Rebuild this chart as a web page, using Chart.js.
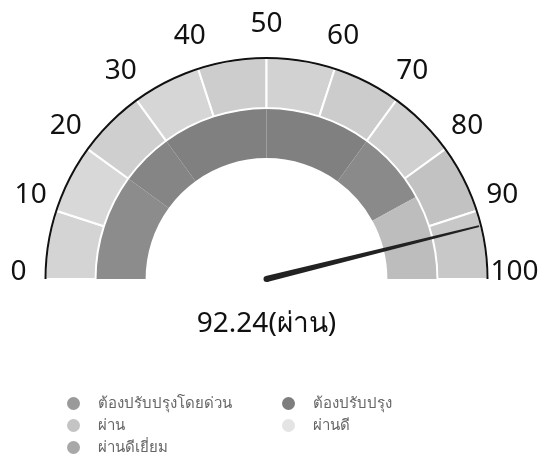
<!DOCTYPE html>
<html lang="th">
<head>
    <meta charset="UTF-8">
    <title>Gauge</title>
    <script src="https://cdn.jsdelivr.net/npm/chart.js"></script>
    <style>
        body { margin: 0; background: #fff; font-family: "Noto Sans", sans-serif; }
        #wrap { position: relative; width: 545px; height: 360px; }
        #legend { position: absolute; left: 0; top: 0; width: 545px; height: 463px; pointer-events: none; }
        .item { position: absolute; display: flex; align-items: center; font-size: 15px; color: #666; white-space: nowrap; }
        .dot { width: 13px; height: 13px; border-radius: 50%; margin-right: 18px; }
    </style>
</head>
<body>
    <div id="wrap"><canvas id="gauge"></canvas></div>
    <div id="legend"></div>
    <script>
        // scale labels around the dial
        const tickValues = [0, 10, 20, 30, 40, 50, 60, 70, 80, 90, 100];
        const tickLabels = ['0', '10', '20', '30', '40', '50', '60', '70', '80', '90', '100'];

        // outer ring: ten bands of 10
        const outerBands = [10, 10, 10, 10, 10, 10, 10, 10, 10, 10];
        const outerColors = ['#d4d4d4', '#d8d8d8', '#cfcfcf', '#d6d6d6', '#cdcdcd',
                             '#d2d2d2', '#cccccc', '#d0d0d0', '#c2c2c2', '#c8c8c8'];

        // inner ring pieces
        const innerBands = [20, 10, 20, 20, 14, 16];
        const innerColors = ['#8c8c8c', '#858585', '#808080', '#808080', '#8a8a8a', '#bdbdbd'];

        const needleValue = 92.24;
        const valueText = '92.24(ผ่าน)';

        const categories = ['ต้องปรับปรุงโดยด่วน', 'ต้องปรับปรุง', 'ผ่าน', 'ผ่านดี', 'ผ่านดีเยี่ยม'];
        const categoryColors = ['#9a9a9a', '#7e7e7e', '#c4c4c4', '#e4e4e4', '#a8a8a8'];

        const gaugeMax = 100;

        function angleFor(arc, v) {
            return arc.startAngle + (Math.PI * v / gaugeMax);
        }

        const dialPlugin = {
            id: 'dial',
            afterDatasetsDraw(chart) {
                const ctx = chart.ctx;
                const arc = chart.getDatasetMeta(0).data[0];
                const cx = arc.x, cy = arc.y, r = arc.outerRadius;

                // outline along the outer edge
                ctx.save();
                ctx.beginPath();
                ctx.arc(cx, cy, r, Math.PI, 2 * Math.PI);
                ctx.lineWidth = 2;
                ctx.strokeStyle = '#111';
                ctx.stroke();

                // tick labels
                ctx.fillStyle = '#111';
                ctx.font = '28px "Noto Sans", sans-serif';
                ctx.textAlign = 'center';
                ctx.textBaseline = 'middle';
                tickValues.forEach((v, i) => {
                    const a = angleFor(arc, v);
                    const lr = r + 27;
                    ctx.fillText(tickLabels[i], cx + Math.cos(a) * lr, cy + Math.sin(a) * lr - 7);
                });

                // needle
                const a = angleFor(arc, needleValue);
                const len = r - 2;
                const nx = Math.cos(a), ny = Math.sin(a);
                const px = -ny, py = nx;
                ctx.beginPath();
                ctx.moveTo(cx + px * 3, cy + py * 3);
                ctx.lineTo(cx + nx * len + px * 1, cy + ny * len + py * 1);
                ctx.lineTo(cx + nx * len - px * 1, cy + ny * len - py * 1);
                ctx.lineTo(cx - px * 3, cy - py * 3);
                ctx.closePath();
                ctx.fillStyle = '#222';
                ctx.fill();
                ctx.beginPath();
                ctx.arc(cx, cy, 3, 0, 2 * Math.PI);
                ctx.fill();

                // value text
                ctx.fillStyle = '#111';
                ctx.font = '28px "Noto Sans", sans-serif';
                ctx.fillText(valueText, cx, cy + 45);
                ctx.restore();
            }
        };

        const ctx = document.getElementById('gauge').getContext('2d');
        const gauge = new Chart(ctx, {
            type: 'doughnut',
            data: {
                labels: outerBands.map((b, i) => String(i)),
                datasets: [{
                    data: outerBands,
                    backgroundColor: outerColors,
                    borderColor: '#fff',
                    borderWidth: 2
                }, {
                    data: innerBands,
                    backgroundColor: innerColors,
                    borderWidth: 0
                }]
            },
            options: {
                responsive: true,
                maintainAspectRatio: false,
                animation: false,
                rotation: -90,
                circumference: 180,
                cutout: '54.7%',
                layout: { padding: { left: 43, right: 55, top: 57, bottom: 80 } },
                plugins: {
                    legend: { display: false },
                    tooltip: { enabled: false }
                }
            },
            plugins: [dialPlugin]
        });

        // legend in two columns
        const legend = document.getElementById('legend');
        const spots = [[67, 402], [282, 402], [67, 424], [282, 424], [67, 446]];
        categories.forEach((c, i) => {
            const el = document.createElement('div');
            el.className = 'item';
            el.style.left = spots[i][0] + 'px';
            el.style.top = (spots[i][1] - 11) + 'px';
            el.innerHTML = '<span class="dot" style="background:' + categoryColors[i] + '"></span>' + c;
            legend.appendChild(el);
        });
    </script>
</body>
</html>
